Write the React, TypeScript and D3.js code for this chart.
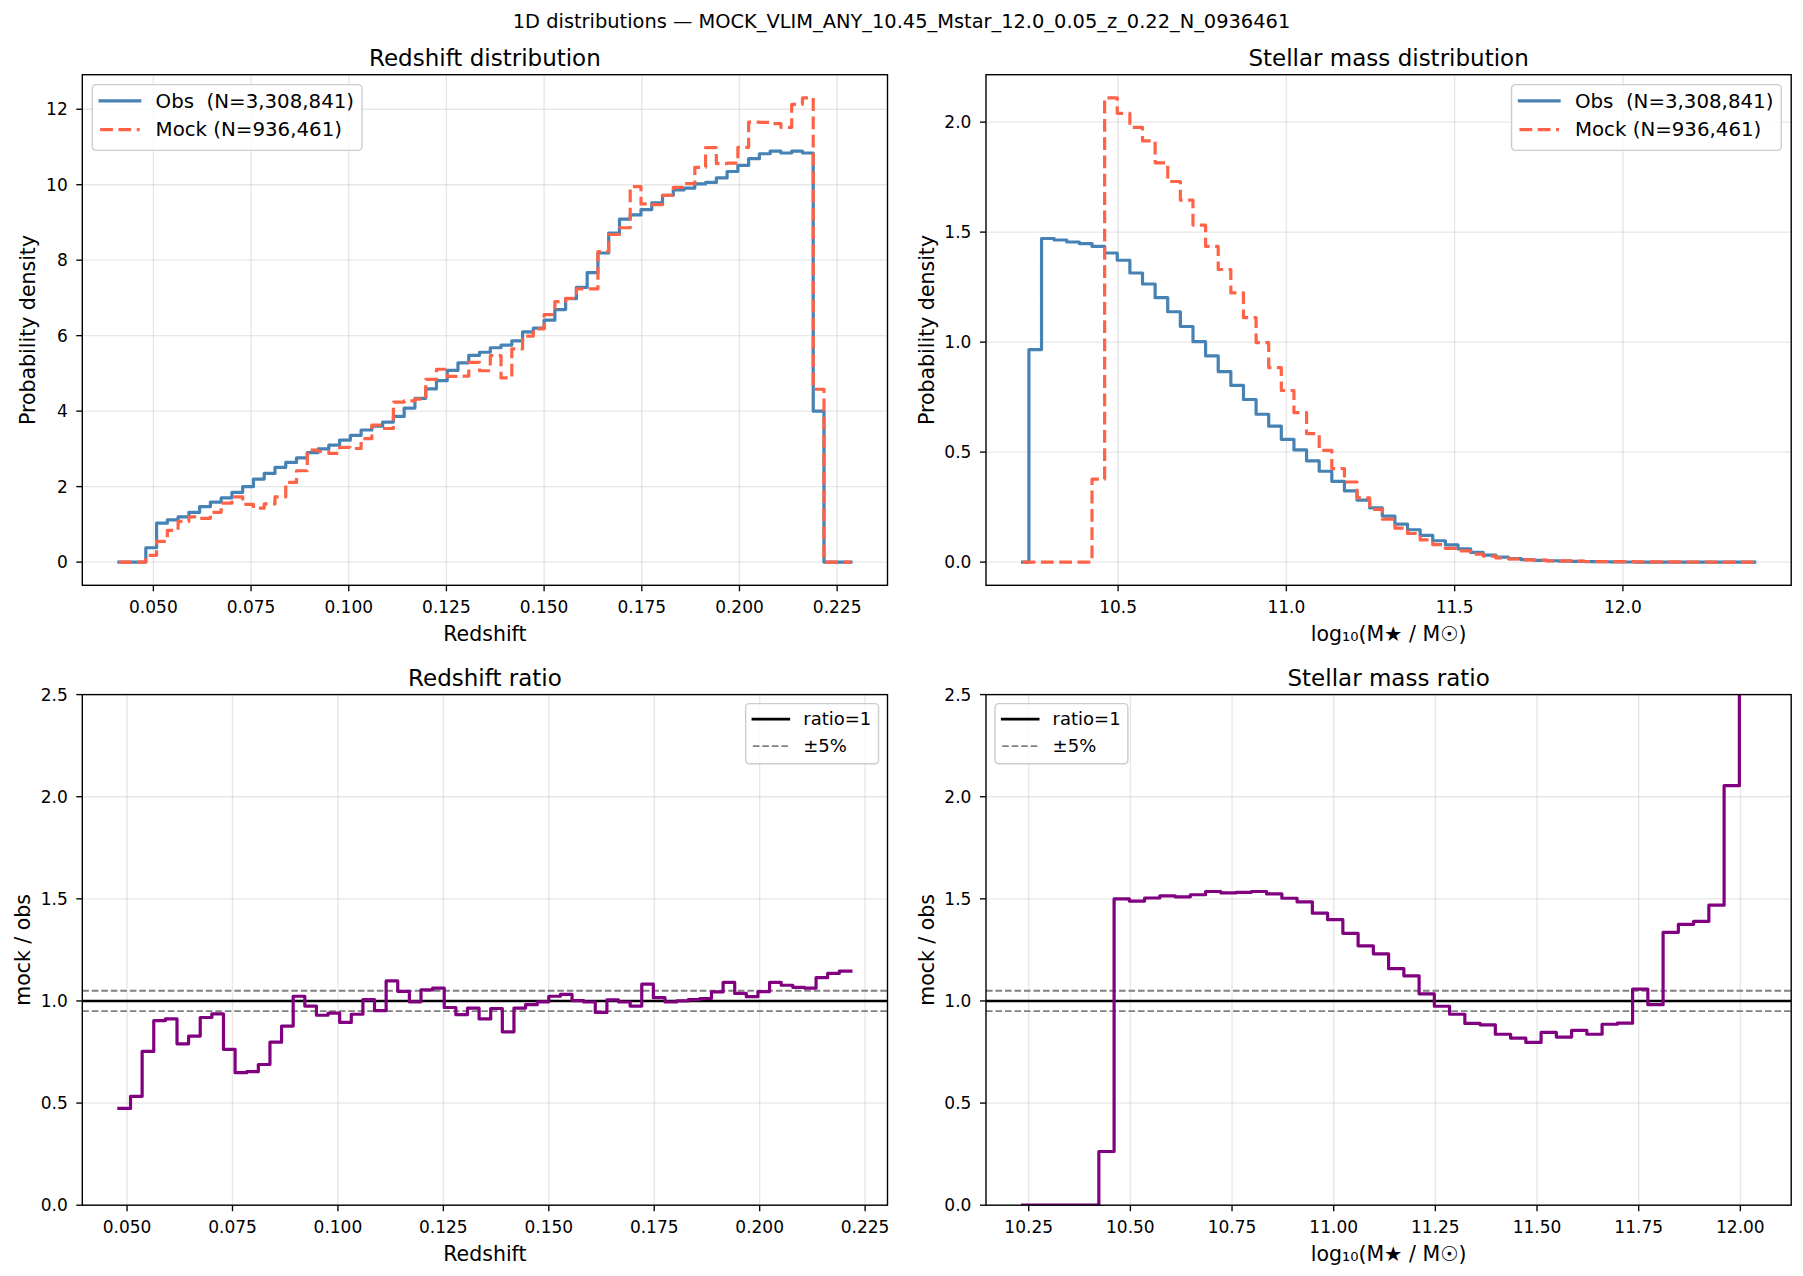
import React, { useEffect, useRef } from 'react';
import * as d3 from 'd3';

const WIDTH = 1803;
const HEIGHT = 1276;
const FONT = '"DejaVu Sans", Verdana, sans-serif';

const SUPTITLE = '1D distributions — MOCK_VLIM_ANY_10.45_Mstar_12.0_0.05_z_0.22_N_0936461';
const OBS_LABEL = 'Obs  (N=3,308,841)';
const MOCK_LABEL = 'Mock (N=936,461)';
const MASS_LABEL = 'log₁₀(M★ / M☉)';

// Redshift histogram: 69 bins starting at Z_EDGE0
const Z_EDGE0 = 0.0398;
const Z_BINW = 0.002755;
const zObs = [
  0, 0, 0,
  0.38, 1.03, 1.12, 1.2, 1.32, 1.47, 1.59, 1.7, 1.85, 2.0,
  2.2, 2.35, 2.51, 2.64, 2.76, 2.9, 3.0, 3.1, 3.23, 3.36,
  3.5, 3.6, 3.71, 3.86, 4.08, 4.34, 4.59, 4.81, 5.08, 5.28,
  5.48, 5.56, 5.68, 5.75, 5.86, 6.1, 6.2, 6.41, 6.69, 6.98,
  7.28, 7.67, 8.19, 8.72, 9.09, 9.2, 9.34, 9.52, 9.72, 9.86,
  9.91, 10.02, 10.06, 10.18, 10.35, 10.51, 10.69, 10.82, 10.89, 10.84,
  10.89, 10.84, 4.0,
  0, 0, 0,
];
const zMock = [
  0, 0, 0,
  0.18, 0.55, 0.84, 1.08, 1.2, 1.16, 1.32, 1.56, 1.73, 1.53,
  1.43, 1.54, 1.73, 2.11, 2.42, 2.97, 2.93, 2.88, 3.04, 3.01,
  3.27, 3.63, 3.54, 4.24, 4.27, 4.32, 4.84, 5.11, 4.92, 4.93,
  5.29, 5.07, 5.47, 4.88, 5.65, 5.99, 6.18, 6.56, 6.9, 6.99,
  7.24, 7.24, 8.23, 8.68, 8.86, 9.95, 9.49, 9.47, 9.72, 9.93,
  10.03, 10.46, 10.98, 10.56, 10.57, 10.99, 11.66, 11.65, 11.62, 11.52,
  12.13, 12.3, 4.58,
  0, 0, 0,
];
// mock / obs for the bins where obs > 0 (first one is bin Z_RATIO_FIRST)
const Z_RATIO_FIRST = 3;
const zRatio = [
  0.474, 0.533, 0.753, 0.904, 0.912, 0.79, 0.828, 0.919, 0.937, 0.763,
  0.649, 0.654, 0.689, 0.798, 0.877, 1.023, 0.975, 0.93, 0.94, 0.895,
  0.935, 1.007, 0.953, 1.098, 1.047, 0.996, 1.054, 1.063, 0.968, 0.933,
  0.965, 0.912, 0.963, 0.849, 0.965, 0.982, 0.996, 1.023, 1.032, 1.002,
  0.995, 0.944, 1.005, 0.995, 0.975, 1.082, 1.016, 0.995, 1.0, 1.007,
  1.012, 1.044, 1.091, 1.037, 1.021, 1.046, 1.091, 1.077, 1.067, 1.063,
  1.114, 1.135, 1.146,
];

// Stellar mass histogram: 59 bins starting at M_EDGE0
const M_EDGE0 = 10.1975;
const M_BINW = 0.0375;
const mObs = [
  0, 0.966, 1.471, 1.464, 1.455, 1.448, 1.435, 1.405, 1.372, 1.314,
  1.264, 1.202, 1.138, 1.071, 1.002, 0.937, 0.866, 0.803, 0.739, 0.672,
  0.618, 0.558, 0.51, 0.46, 0.413, 0.367, 0.324, 0.282, 0.246, 0.209,
  0.173, 0.147, 0.121, 0.097, 0.078, 0.06, 0.044, 0.032, 0.023, 0.016,
  0.011, 0.008, 0.006, 0.004, 0.003, 0.002, 0.0015, 0.001, 0.0005,
  0, 0, 0, 0, 0, 0, 0, 0, 0, 0,
];
const mMock = [
  0, 0, 0, 0, 0, 0, 0.377, 2.11, 2.04, 1.976,
  1.915, 1.815, 1.73, 1.645, 1.532, 1.435, 1.33, 1.224, 1.111, 0.998,
  0.884, 0.78, 0.679, 0.584, 0.508, 0.425, 0.364, 0.292, 0.24, 0.195,
  0.154, 0.13, 0.101, 0.079, 0.062, 0.051, 0.036, 0.027, 0.019, 0.014,
  0.0098, 0.0085, 0.0059, 0.0053, 0.0041, 0.0028, 0.0022, 0.0021, 0.0017,
  0.0012, 0.001, 0.0008, 0.0006, 0.0005, 0.0004, 0.0003, 0.0002, 0.0002, 0.0001,
];
const M_RATIO_FIRST = 1;
const mRatio = [
  0, 0, 0, 0, 0, 0.263, 1.5, 1.489, 1.504, 1.515,
  1.51, 1.52, 1.536, 1.529, 1.532, 1.536, 1.524, 1.503, 1.485, 1.43,
  1.398, 1.331, 1.27, 1.231, 1.158, 1.123, 1.035, 0.974, 0.935, 0.89,
  0.883, 0.837, 0.818, 0.797, 0.846, 0.823, 0.856, 0.837, 0.886, 0.891,
  1.058, 0.982, 1.336, 1.375, 1.39, 1.469, 2.054, 3.4,
];

const zTicks = [0.05, 0.075, 0.1, 0.125, 0.15, 0.175, 0.2, 0.225];
const zDensityTicks = [0, 2, 4, 6, 8, 10, 12];
const mTicksTop = [10.5, 11.0, 11.5, 12.0];
const mTicksBottom = [10.25, 10.5, 10.75, 11.0, 11.25, 11.5, 11.75, 12.0];
const mDensityTicks = [0, 0.5, 1.0, 1.5, 2.0];
const ratioTicks = [0, 0.5, 1.0, 1.5, 2.0, 2.5];
const RATIO_REF = 1;
const RATIO_BAND = 0.05;

const C_OBS = '#4682b4';
const C_MOCK = '#ff6347';
const C_RATIO = '#800080';
const MOCK_DASH = '12.8 5.5';
const BAND_DASH = '6.6 2.9';

// axes boxes
const PANEL_W = 805.2;
const PANEL_H = 510.6;
const COL_X = [82.3, 986.0];
const ROW_Y = [74.7, 694.6];

type G = d3.Selection<SVGGElement, unknown, null, undefined>;

// matplotlib-like 5% margins
const pad5 = (lo: number, hi: number): [number, number] => [lo - 0.05 * (hi - lo), hi + 0.05 * (hi - lo)];

interface PanelOpts {
  id: string;
  left: number;
  top: number;
  xDomain: [number, number];
  yDomain: [number, number];
  xTicks: number[];
  yTicks: number[];
  xFormat: (v: number) => string;
  yFormat: (v: number) => string;
  title: string;
  xLabel: string;
  yLabel: string;
  yLabelOffset: number;
}

function makePanel(svg: d3.Selection<SVGSVGElement, unknown, null, undefined>, o: PanelOpts) {
  const x = d3.scaleLinear().domain(o.xDomain).range([0, PANEL_W]);
  const y = d3.scaleLinear().domain(o.yDomain).range([PANEL_H, 0]);

  svg.select('defs').append('clipPath').attr('id', o.id)
    .append('rect').attr('width', PANEL_W).attr('height', PANEL_H);

  const g = svg.append('g').attr('transform', `translate(${o.left},${o.top})`);
  const grid = g.append('g');
  const plot = g.append('g').attr('clip-path', `url(#${o.id})`);
  const frame = g.append('g');
  const legendLayer = g.append('g');

  // Grid lines
  grid.selectAll('line.gx').data(o.xTicks).join('line')
    .attr('class', 'gx')
    .attr('x1', d => x(d)).attr('x2', d => x(d))
    .attr('y1', 0).attr('y2', PANEL_H);
  grid.selectAll('line.gy').data(o.yTicks).join('line')
    .attr('class', 'gy')
    .attr('x1', 0).attr('x2', PANEL_W)
    .attr('y1', d => y(d)).attr('y2', d => y(d));
  grid.selectAll('line')
    .attr('stroke', '#b0b0b0').attr('stroke-opacity', 0.3).attr('stroke-width', 1.35);

  // Spines
  frame.append('rect')
    .attr('width', PANEL_W).attr('height', PANEL_H)
    .attr('fill', 'none').attr('stroke', '#000').attr('stroke-width', 1.4);

  // Ticks
  frame.selectAll('line.tx').data(o.xTicks).join('line')
    .attr('class', 'tx')
    .attr('x1', d => x(d)).attr('x2', d => x(d))
    .attr('y1', PANEL_H).attr('y2', PANEL_H + 6)
    .attr('stroke', '#000').attr('stroke-width', 1.35);
  frame.selectAll('text.tx').data(o.xTicks).join('text')
    .attr('class', 'tx')
    .attr('x', d => x(d)).attr('y', PANEL_H + 27.5)
    .attr('text-anchor', 'middle').attr('font-size', 17)
    .text(d => o.xFormat(d));
  frame.selectAll('line.ty').data(o.yTicks).join('line')
    .attr('class', 'ty')
    .attr('x1', -6).attr('x2', 0)
    .attr('y1', d => y(d)).attr('y2', d => y(d))
    .attr('stroke', '#000').attr('stroke-width', 1.35);
  frame.selectAll('text.ty').data(o.yTicks).join('text')
    .attr('class', 'ty')
    .attr('x', -14.6).attr('y', d => y(d) + 6.2)
    .attr('text-anchor', 'end').attr('font-size', 17)
    .text(d => o.yFormat(d));

  // Title and labels
  frame.append('text')
    .attr('x', PANEL_W / 2).attr('y', -8.7)
    .attr('text-anchor', 'middle').attr('font-size', 23)
    .text(o.title);
  frame.append('text')
    .attr('x', PANEL_W / 2).attr('y', PANEL_H + 55.5)
    .attr('text-anchor', 'middle').attr('font-size', 20.5)
    .text(o.xLabel);
  frame.append('text')
    .attr('transform', `translate(${-o.yLabelOffset},${PANEL_H / 2}) rotate(-90)`)
    .attr('text-anchor', 'middle').attr('font-size', 20.5)
    .text(o.yLabel);

  return { plot, legendLayer, x, y };
}

interface LegendItem {
  label: string;
  color: string;
  width: number;
  dash?: string;
}

// row geometry in units of font size: first row centre, row step, bottom pad
function drawLegend(layer: G, items: LegendItem[], fs: number, side: 'left' | 'right', rows: [number, number, number]) {
  const pad = 0.4 * fs;
  const handleLen = 2 * fs;
  const gap = 0.8 * fs;
  const inset = 0.5 * fs;
  const [first, step, bottom] = rows;
  const lg = layer.append('g');
  const box = lg.append('rect');

  const labels = items.map((it, i) => {
    const cy = (first + i * step) * fs;
    lg.append('line')
      .attr('x1', pad).attr('x2', pad + handleLen)
      .attr('y1', cy).attr('y2', cy)
      .attr('stroke', it.color).attr('stroke-width', it.width)
      .attr('stroke-dasharray', it.dash ?? null)
      .attr('stroke-linecap', it.dash ? 'butt' : 'square');
    return lg.append('text')
      .attr('x', pad + handleLen + gap).attr('y', cy).attr('dy', '0.35em')
      .attr('font-size', fs)
      .style('white-space', 'pre')
      .text(it.label);
  });

  const textW = d3.max(labels, t => (t.node() as SVGTextElement).getComputedTextLength()) ?? 0;
  const w = pad + handleLen + gap + textW + pad;
  const h = (first + (items.length - 1) * step + bottom) * fs;
  box.attr('width', w).attr('height', h).attr('rx', 0.2 * fs)
    .attr('fill', '#fff').attr('fill-opacity', 0.8)
    .attr('stroke', '#cccccc').attr('stroke-width', 1.4);

  const tx = side === 'left' ? inset : PANEL_W - inset - w;
  lg.attr('transform', `translate(${tx},${inset})`);
}

export default function App() {
  const svgRef = useRef<SVGSVGElement>(null);

  useEffect(() => {
    document.body.style.margin = '0';
    if (!svgRef.current) return;

    const svg = d3.select(svgRef.current);
    svg.selectAll('*').remove();
    svg.attr('width', WIDTH).attr('height', HEIGHT)
      .style('font-family', FONT);
    svg.append('defs');
    svg.append('rect').attr('width', WIDTH).attr('height', HEIGHT).attr('fill', '#fff');

    svg.append('text')
      .attr('x', WIDTH / 2).attr('y', 27.5)
      .attr('text-anchor', 'middle').attr('font-size', 19.4)
      .text(SUPTITLE);

    // bin centres / edges
    const zCenters = zObs.map((_, i) => Z_EDGE0 + (i + 0.5) * Z_BINW);
    const mCenters = mObs.map((_, i) => M_EDGE0 + (i + 0.5) * M_BINW);
    const zRatioEdges = d3.range(zRatio.length + 1).map(i => Z_EDGE0 + (Z_RATIO_FIRST + i) * Z_BINW);
    const mRatioEdges = d3.range(mRatio.length + 1).map(i => M_EDGE0 + (M_RATIO_FIRST + i) * M_BINW);

    const f3 = d3.format('.3f');
    const f2 = d3.format('.2f');
    const f1 = d3.format('.1f');
    const fd = d3.format('d');

    const legendDist: LegendItem[] = [
      { label: OBS_LABEL, color: C_OBS, width: 3.2 },
      { label: MOCK_LABEL, color: C_MOCK, width: 3.2, dash: MOCK_DASH },
    ];
    const legendRatio: LegendItem[] = [
      { label: 'ratio=1', color: '#000', width: 2.6 },
      { label: '±5%', color: '#808080', width: 1.8, dash: BAND_DASH },
    ];
    const distRows: [number, number, number] = [0.82, 1.45, 1.05];
    const ratioRows: [number, number, number] = [0.86, 1.5, 0.98];

    // distribution: matplotlib step(where='mid') == d3.curveStep
    const drawDist = (p: ReturnType<typeof makePanel>, centers: number[], obs: number[], mock: number[]) => {
      const line = d3.line<number>()
        .x((_, i) => p.x(centers[i]))
        .y(d => p.y(d))
        .curve(d3.curveStep);
      p.plot.append('path')
        .attr('d', line(obs))
        .attr('fill', 'none').attr('stroke', C_OBS).attr('stroke-width', 3.2)
        .attr('stroke-linejoin', 'round').attr('stroke-linecap', 'square');
      p.plot.append('path')
        .attr('d', line(mock))
        .attr('fill', 'none').attr('stroke', C_MOCK).attr('stroke-width', 3.2)
        .attr('stroke-dasharray', MOCK_DASH)
        .attr('stroke-linejoin', 'round');
    };

    const drawRatio = (p: ReturnType<typeof makePanel>, edges: number[], ratio: number[]) => {
      const [x0, x1] = p.x.domain();
      p.plot.append('line')
        .attr('x1', p.x(x0)).attr('x2', p.x(x1))
        .attr('y1', p.y(RATIO_REF)).attr('y2', p.y(RATIO_REF))
        .attr('stroke', '#000').attr('stroke-width', 2.6);
      [RATIO_REF - RATIO_BAND, RATIO_REF + RATIO_BAND].forEach(v => {
        p.plot.append('line')
          .attr('x1', p.x(x0)).attr('x2', p.x(x1))
          .attr('y1', p.y(v)).attr('y2', p.y(v))
          .attr('stroke', '#808080').attr('stroke-width', 1.8)
          .attr('stroke-dasharray', BAND_DASH);
      });
      const vals = [...ratio, ratio[ratio.length - 1]];
      const line = d3.line<number>()
        .x((_, i) => p.x(edges[i]))
        .y(d => p.y(d))
        .curve(d3.curveStepAfter);
      p.plot.append('path')
        .attr('d', line(vals))
        .attr('fill', 'none').attr('stroke', C_RATIO).attr('stroke-width', 3.2)
        .attr('stroke-linejoin', 'round').attr('stroke-linecap', 'square');
    };

    // Redshift distribution
    const pz = makePanel(svg, {
      id: 'clip-z', left: COL_X[0], top: ROW_Y[0],
      xDomain: pad5(zCenters[0], zCenters[zCenters.length - 1]),
      yDomain: pad5(0, d3.max([...zObs, ...zMock]) as number),
      xTicks: zTicks, yTicks: zDensityTicks, xFormat: f3, yFormat: fd,
      title: 'Redshift distribution', xLabel: 'Redshift', yLabel: 'Probability density',
      yLabelOffset: 47.3,
    });
    drawDist(pz, zCenters, zObs, zMock);
    drawLegend(pz.legendLayer, legendDist, 19.8, 'left', distRows);

    // Stellar mass distribution
    const pm = makePanel(svg, {
      id: 'clip-m', left: COL_X[1], top: ROW_Y[0],
      xDomain: pad5(mCenters[0], mCenters[mCenters.length - 1]),
      yDomain: pad5(0, d3.max([...mObs, ...mMock]) as number),
      xTicks: mTicksTop, yTicks: mDensityTicks, xFormat: f1, yFormat: f1,
      title: 'Stellar mass distribution', xLabel: MASS_LABEL, yLabel: 'Probability density',
      yLabelOffset: 52.5,
    });
    drawDist(pm, mCenters, mObs, mMock);
    drawLegend(pm.legendLayer, legendDist, 19.8, 'right', distRows);

    // Redshift ratio
    const prz = makePanel(svg, {
      id: 'clip-rz', left: COL_X[0], top: ROW_Y[1],
      xDomain: pad5(zRatioEdges[0], zRatioEdges[zRatioEdges.length - 1]),
      yDomain: [0, 2.5],
      xTicks: zTicks, yTicks: ratioTicks, xFormat: f3, yFormat: f1,
      title: 'Redshift ratio', xLabel: 'Redshift', yLabel: 'mock / obs',
      yLabelOffset: 52.5,
    });
    drawRatio(prz, zRatioEdges, zRatio);
    drawLegend(prz.legendLayer, legendRatio, 18, 'right', ratioRows);

    // Stellar mass ratio
    const prm = makePanel(svg, {
      id: 'clip-rm', left: COL_X[1], top: ROW_Y[1],
      xDomain: pad5(mRatioEdges[0], mRatioEdges[mRatioEdges.length - 1]),
      yDomain: [0, 2.5],
      xTicks: mTicksBottom, yTicks: ratioTicks, xFormat: f2, yFormat: f1,
      title: 'Stellar mass ratio', xLabel: MASS_LABEL, yLabel: 'mock / obs',
      yLabelOffset: 52.5,
    });
    drawRatio(prm, mRatioEdges, mRatio);
    drawLegend(prm.legendLayer, legendRatio, 18, 'left', ratioRows);
  }, []);

  return <svg ref={svgRef} style={{ display: 'block' }} />;
}
